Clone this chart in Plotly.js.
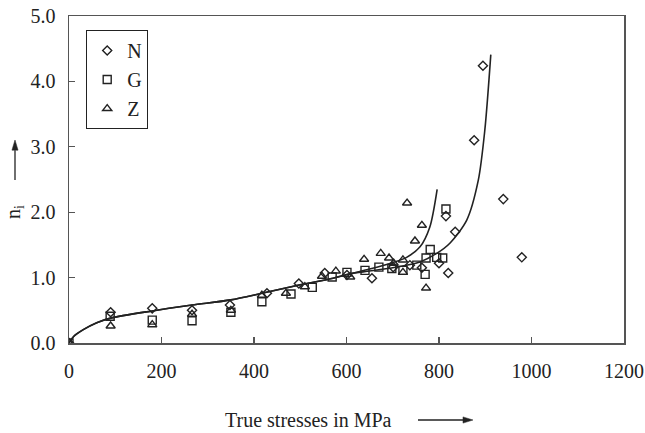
<!DOCTYPE html>
<html>
<head>
<meta charset="utf-8">
<script src="https://cdn.plot.ly/plotly-3.0.1.min.js"></script>
<style>html,body{margin:0;padding:0;background:#fff}#chart{width:645px;height:433px}</style>
</head>
<body>
<div id="chart"></div>
<script>
// Series N (diamonds)
const N_x = [0, 90, 180, 266, 348, 428, 497, 553, 601, 655, 701, 737, 763, 800, 815, 820, 835, 876, 895, 939, 979];
const N_y = [0, 0.47, 0.53, 0.50, 0.58, 0.76, 0.91, 1.07, 1.04, 0.99, 1.16, 1.19, 1.15, 1.22, 1.94, 1.07, 1.70, 3.10, 4.24, 2.20, 1.31];
// Series G (squares)
const G_x = [0, 89, 180, 266, 350, 417, 480, 526, 569, 601, 640, 670, 698, 722, 752, 770, 772, 781, 795, 808, 815];
const G_y = [0, 0.41, 0.35, 0.34, 0.47, 0.63, 0.75, 0.85, 1.01, 1.08, 1.11, 1.16, 1.14, 1.11, 1.19, 1.05, 1.30, 1.43, 1.31, 1.30, 2.05];
// Series Z (triangles)
const Z_x = [0, 90, 180, 266, 350, 417, 469, 510, 547, 577, 608, 638, 674, 692, 702, 722, 722, 731, 748, 763, 772];
const Z_y = [0, 0.26, 0.28, 0.44, 0.50, 0.73, 0.76, 0.86, 1.02, 1.10, 1.01, 1.28, 1.37, 1.30, 1.22, 1.27, 1.08, 2.14, 1.56, 1.80, 0.84];
// Fitted curve A (ends near 800 MPa)
const curveA_x = [0, 10, 30, 60, 90, 180, 266, 350, 417, 500, 571, 608, 650, 700, 730, 759, 780, 796];
const curveA_y = [0, 0.10, 0.20, 0.31, 0.38, 0.49, 0.58, 0.66, 0.76, 0.89, 0.99, 1.06, 1.13, 1.23, 1.31, 1.47, 1.77, 2.35];
// Fitted curve B (ends near 910 MPa)
const curveB_x = [0, 10, 30, 60, 90, 180, 266, 350, 417, 500, 571, 608, 650, 700, 730, 759, 795, 824, 860, 885, 899, 912];
const curveB_y = [0, 0.10, 0.20, 0.31, 0.38, 0.49, 0.58, 0.66, 0.76, 0.89, 0.99, 1.06, 1.10, 1.15, 1.19, 1.24, 1.37, 1.53, 1.88, 2.49, 3.25, 4.41];
// Labels
const seriesNames = ['N', 'G', 'Z'];
const xTitle = 'True stresses in MPa';
const yTitle = 'n<sub>i</sub>';

const FONT = 'Liberation Serif, Times New Roman, serif';
const INK = '#222';

const mk = (sym, size) => ({symbol: sym, size: size, color: INK, line: {color: INK, width: 1.4}});

const traces = [
  {x: curveA_x, y: curveA_y, mode: 'lines', line: {color: INK, width: 1.6, shape: 'spline', smoothing: 0.8}, showlegend: false, hoverinfo: 'skip'},
  {x: curveB_x, y: curveB_y, mode: 'lines', line: {color: INK, width: 1.6, shape: 'spline', smoothing: 0.8}, showlegend: false, hoverinfo: 'skip'},
  {x: N_x, y: N_y, name: seriesNames[0], mode: 'markers', marker: mk('diamond-open', 7)},
  {x: G_x, y: G_y, name: seriesNames[1], mode: 'markers', marker: mk('square-open', 8)},
  {x: Z_x, y: Z_y, name: seriesNames[2], mode: 'markers', marker: mk('triangle-up-open', 8)}
];

const axisCommon = {
  showline: true, linecolor: '#555', linewidth: 1.5, mirror: true,
  ticks: 'inside', ticklen: 6, tickwidth: 1.2, tickcolor: '#555',
  showgrid: false, zeroline: false,
  tickfont: {family: FONT, size: 20, color: INK}
};

// arrow geometry in paper units (plot area 555 x 327 px)
const xArrow = {tipX: 0.7279, tailX: 0.6288, y: -0.2355, headLen: 0.018, halfW: 0.0095};
const yArrow = {x: -0.0973, tipY: 0.6208, tailY: 0.4985, headLen: 0.031, halfW: 0.0055};

const layout = {
  width: 645, height: 433,
  margin: {l: 69, r: 21, t: 16, b: 90},
  paper_bgcolor: '#fff', plot_bgcolor: '#fff',
  font: {family: FONT, size: 20, color: INK},
  xaxis: Object.assign({}, axisCommon, {range: [0, 1200], dtick: 200, tick0: 0, ticklabelstandoff: 9}),
  yaxis: Object.assign({}, axisCommon, {range: [0, 5], dtick: 1, tick0: 0, tickformat: '.1f', ticklabelstandoff: 8}),
  showlegend: true,
  legend: {
    x: 0.031, y: 0.957, xanchor: 'left', yanchor: 'top',
    bordercolor: '#222', borderwidth: 1, bgcolor: '#fff',
    font: {family: FONT, size: 20, color: INK},
    itemwidth: 30, tracegroupgap: 0
  },
  shapes: [
    {type: 'line', xref: 'paper', yref: 'paper', x0: xArrow.tailX, x1: xArrow.tipX - xArrow.headLen, y0: xArrow.y, y1: xArrow.y,
     line: {color: INK, width: 1.3}},
    {type: 'path', xref: 'paper', yref: 'paper', fillcolor: INK, line: {color: INK, width: 0.5},
     path: `M ${xArrow.tipX} ${xArrow.y} L ${xArrow.tipX - xArrow.headLen} ${xArrow.y + xArrow.halfW} L ${xArrow.tipX - xArrow.headLen} ${xArrow.y - xArrow.halfW} Z`},
    {type: 'line', xref: 'paper', yref: 'paper', x0: yArrow.x, x1: yArrow.x, y0: yArrow.tailY, y1: yArrow.tipY - yArrow.headLen,
     line: {color: INK, width: 1.3}},
    {type: 'path', xref: 'paper', yref: 'paper', fillcolor: INK, line: {color: INK, width: 0.5},
     path: `M ${yArrow.x} ${yArrow.tipY} L ${yArrow.x - yArrow.halfW} ${yArrow.tipY - yArrow.headLen} L ${yArrow.x + yArrow.halfW} ${yArrow.tipY - yArrow.headLen} Z`}
  ],
  annotations: [
    {xref: 'paper', yref: 'paper', x: 0.432, y: -0.2355, xanchor: 'center', yanchor: 'middle',
     text: xTitle, showarrow: false, font: {family: FONT, size: 20, color: INK}},
    {xref: 'paper', yref: 'paper', x: -0.097, y: 0.401, xanchor: 'center', yanchor: 'middle',
     text: yTitle, textangle: -90, showarrow: false, font: {family: FONT, size: 20, color: INK}}
  ]
};

Plotly.newPlot('chart', traces, layout, {staticPlot: true, displayModeBar: false});
</script>
</body>
</html>
